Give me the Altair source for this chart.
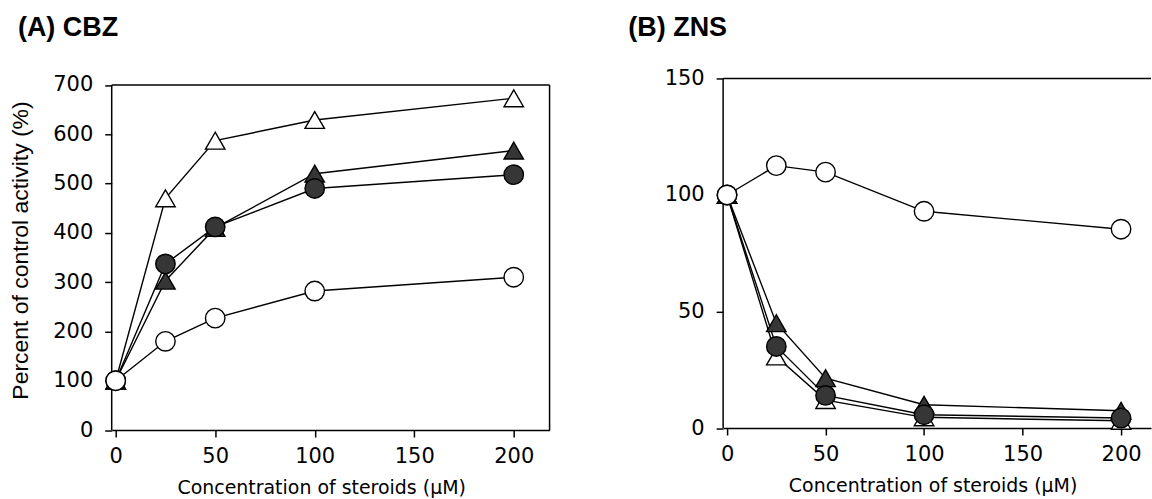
import altair as alt
import pandas as pd

# ---------------- data ----------------
conc = [0, 25, 50, 100, 200]  # concentration of steroids (uM)

series_names = ["open triangle", "filled triangle", "filled circle", "open circle"]
series_shapes = ["triangle-up", "triangle-up", "circle", "circle"]
series_fills = ["white", "#363636", "#363636", "white"]
series_sizes = [380, 380, 361, 361]

# (A) CBZ
cbz_open_triangle = [100, 470, 587, 629, 673]
cbz_filled_triangle = [100, 303, 410, 520, 567]
cbz_filled_circle = [100, 337, 412, 490, 518]
cbz_open_circle = [100, 180, 227, 282, 310]

# (B) ZNS
zns_open_triangle = [100, 30.7, 12, 4.6, 3.1]
zns_filled_triangle = [100, 45, 21.4, 10, 7.4]
zns_filled_circle = [100, 35, 14, 5.7, 4.3]
zns_open_circle = [100, 112.6, 109.8, 93, 85.3]

x_ticks = [0, 50, 100, 150, 200]
cbz_y_ticks = [0, 100, 200, 300, 400, 500, 600, 700]
zns_y_ticks = [0, 50, 100, 150]

x_title = "Concentration of steroids (\u03bcM)"
y_title = "Percent of control activity (%)"


def long_df(series_values):
    rows = []
    for name, vals in zip(series_names, series_values):
        for c, v in zip(conc, vals):
            rows.append({"series": name, "conc": c, "value": v})
    return pd.DataFrame(rows)


cbz_df = long_df([cbz_open_triangle, cbz_filled_triangle, cbz_filled_circle, cbz_open_circle])
zns_df = long_df([zns_open_triangle, zns_filled_triangle, zns_filled_circle, zns_open_circle])


def panel(df, width, height, x_domain, y_domain, frame_top, y_ticks, title_text, title_dx,
          title_offset, right_border, y_axis_kwargs):
    x = alt.X(
        "conc:Q",
        scale=alt.Scale(domain=x_domain, nice=False, zero=False),
        axis=alt.Axis(values=x_ticks, title=x_title, titleX=210, titlePadding=12,
                      titleFont="DejaVu Sans", titleFontSize=19, titleFontWeight="normal",
                      labelPadding=9),
    )
    y = alt.Y(
        "value:Q",
        scale=alt.Scale(domain=y_domain, nice=False, zero=False),
        axis=alt.Axis(values=y_ticks, labelPadding=12, domain=False, **y_axis_kwargs),
    )
    lines = alt.Chart(df).mark_line(color="black", strokeWidth=1.4).encode(
        x=x, y=y, detail="series:N"
    )
    points = alt.Chart(df).mark_point(
        filled=True, stroke="black", strokeWidth=1.4, opacity=1
    ).encode(
        x=x,
        y=y,
        shape=alt.Shape("series:N", scale=alt.Scale(domain=series_names, range=series_shapes), legend=None),
        fill=alt.Fill("series:N", scale=alt.Scale(domain=series_names, range=series_fills), legend=None),
        size=alt.Size("series:N", scale=alt.Scale(domain=series_names, range=series_sizes), legend=None),
    )
    one = pd.DataFrame({"k": [0]})
    top_rule = alt.Chart(one).mark_rule(color="black", strokeWidth=1.5).encode(
        y=alt.datum(frame_top)
    )
    left_rule = alt.Chart(one).mark_rule(color="black", strokeWidth=1.5).encode(
        x=alt.datum(x_domain[0]), y=alt.datum(0), y2=alt.datum(frame_top)
    )
    layers = [left_rule, top_rule, lines, points]
    if right_border:
        layers.insert(
            0,
            alt.Chart(one).mark_rule(color="black", strokeWidth=1.5).encode(
                x=alt.datum(x_domain[1]), y=alt.datum(0), y2=alt.datum(frame_top)
            ),
        )
    return alt.layer(*layers).properties(
        width=width,
        height=height,
        title=alt.TitleParams(
            title_text, anchor="start", frame="group", dx=title_dx, offset=title_offset,
            font="Liberation Sans", fontSize=27, fontWeight="bold", color="black",
        ),
    )


chart_a = panel(
    cbz_df, 439, 352.5, [-2, 218], [0, 713.2], 700, cbz_y_ticks, "(A) CBZ", -94, 32, True,
    dict(title=y_title, titleFont="Liberation Sans", titleFontSize=23,
         titleFontWeight="normal", titlePadding=20, titleY=172),
)
chart_b = panel(
    zns_df, 429, 350.5, [-2, 215.2], [0, 150], 150, zns_y_ticks, "(B) ZNS", -95, 25.5, False,
    dict(title=None),
)

chart = alt.hconcat(chart_a, chart_b, spacing=78).properties(
    padding={"left": 9, "top": 13, "right": 0, "bottom": 0}
).configure_view(stroke=None).configure_axis(
    domainColor="black", domainWidth=1.5, tickColor="black", tickWidth=1.5, tickSize=7,
    labelFont="DejaVu Sans", labelFontSize=21, labelColor="black", grid=False,
    titleColor="black",
)

chart.save("out.html", embed_options={"renderer": "svg", "actions": False})
